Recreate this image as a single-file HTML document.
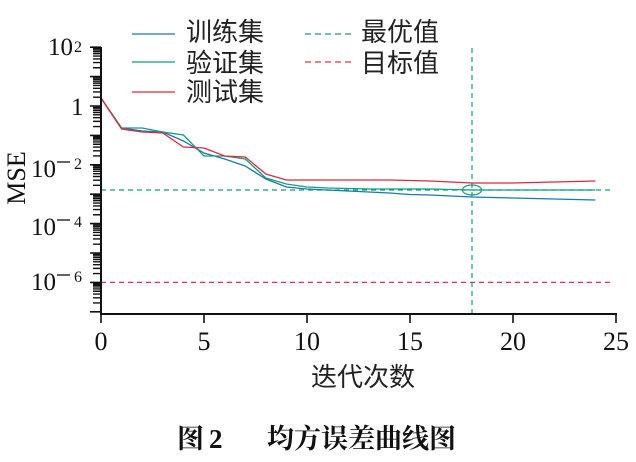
<!DOCTYPE html>
<html><head><meta charset="utf-8"><style>
html,body{margin:0;padding:0;background:#fff;}
svg{display:block;}
.n{font-family:"Liberation Serif",serif;fill:#111;}
.c{font-family:"Liberation Sans","Noto Sans CJK SC",sans-serif;fill:#222;}
.b{font-family:"Liberation Serif","Noto Serif CJK SC",serif;font-weight:700;fill:#111;}
</style></head><body>
<svg width="636" height="462" viewBox="0 0 636 462" xmlns="http://www.w3.org/2000/svg">
<rect width="636" height="462" fill="#fff"/>
<!-- reference lines -->
<line x1="101" y1="190" x2="613" y2="190" stroke="#10a07c" stroke-width="1.2" stroke-dasharray="5,4"/>
<line x1="101" y1="282.4" x2="613" y2="282.4" stroke="#e0304c" stroke-width="1.2" stroke-dasharray="5,4"/>
<line x1="472" y1="48" x2="472" y2="314" stroke="#10a07c" stroke-width="1.2" stroke-dasharray="5,4"/>
<!-- series -->
<polyline fill="none" stroke="#1a78b8" stroke-width="1.3" points="101,98 121.6,128 142.2,131 162.8,132 183.4,141 204,153 224.6,159 245.2,166 265.8,179 286.4,187 307,189 327.6,190 348.2,191 368.8,192 389.4,193 410,194.5 430.6,195 451.2,196 471.8,197 492.4,197.5 513,198 533.6,198.5 554.2,199 574.8,199.5 595.4,200"/>
<polyline fill="none" stroke="#10a07c" stroke-width="1.3" points="101,98 121.6,128 142.2,128 162.8,132 183.4,135 204,156 224.6,156 245.2,159 265.8,178 286.4,184 307,187 327.6,188 348.2,188.5 368.8,189 389.4,189 410,189 430.6,189 451.2,189.5 471.8,190 492.4,190 513,190 533.6,190 554.2,190 574.8,190 595.4,190"/>
<polyline fill="none" stroke="#e0283c" stroke-width="1.3" points="101,98 121.6,129 142.2,132 162.8,133 183.4,147 204,148 224.6,156 245.2,157 265.8,174 286.4,180 307,180 327.6,180 348.2,180 368.8,180 389.4,180 410,180.5 430.6,181 451.2,182 471.8,183 492.4,183 513,183 533.6,182.5 554.2,182 574.8,181.5 595.4,181"/>
<ellipse cx="472" cy="190" rx="9.5" ry="5" fill="none" stroke="#10a07c" stroke-width="1.2"/>
<!-- axes -->
<line x1="101" y1="47" x2="101" y2="315" stroke="#111" stroke-width="2"/>
<line x1="100" y1="314" x2="617" y2="314" stroke="#111" stroke-width="2"/>
<path stroke="#111" stroke-width="1.6" fill="none" d="
M101,314v9 M204,314v9 M307,314v9 M410,314v9 M513,314v9 M616,314v9
M90,47.2h11 M90,76.6h11 M90,106h11 M90,135.4h11 M90,164.8h11 M90,194.2h11 M90,223.6h11 M90,253h11 M90,282.4h11 M90,311.8h11"/>
<path stroke="#111" stroke-width="1.4" fill="none" d="
M93,67.75h8 M93,62.57h8 M93,58.9h8 M93,56.05h8 M93,53.73h8 M93,51.76h8 M93,50.05h8 M93,48.55h8
M93,97.15h8 M93,91.97h8 M93,88.3h8 M93,85.45h8 M93,83.13h8 M93,81.16h8 M93,79.45h8 M93,77.95h8
M93,126.55h8 M93,121.37h8 M93,117.7h8 M93,114.85h8 M93,112.53h8 M93,110.56h8 M93,108.85h8 M93,107.35h8
M93,155.95h8 M93,150.77h8 M93,147.1h8 M93,144.25h8 M93,141.93h8 M93,139.96h8 M93,138.25h8 M93,136.75h8
M93,185.35h8 M93,180.17h8 M93,176.5h8 M93,173.65h8 M93,171.33h8 M93,169.36h8 M93,167.65h8 M93,166.15h8
M93,214.75h8 M93,209.57h8 M93,205.9h8 M93,203.05h8 M93,200.73h8 M93,198.76h8 M93,197.05h8 M93,195.55h8
M93,244.15h8 M93,238.97h8 M93,235.3h8 M93,232.45h8 M93,230.13h8 M93,228.16h8 M93,226.45h8 M93,224.95h8
M93,273.55h8 M93,268.37h8 M93,264.7h8 M93,261.85h8 M93,259.53h8 M93,257.56h8 M93,255.85h8 M93,254.35h8
M93,302.95h8 M93,297.77h8 M93,294.1h8 M93,291.25h8 M93,288.93h8 M93,286.96h8 M93,285.25h8 M93,283.75h8"/>
<!-- x tick labels -->
<g class="n" font-size="26" text-anchor="middle">
<text x="101" y="350">0</text><text x="204" y="350">5</text><text x="307" y="350">10</text>
<text x="410" y="350">15</text><text x="513" y="350">20</text><text x="616" y="350">25</text>
</g>
<!-- y tick labels -->
<g class="n" font-size="25">
<text x="48" y="55">10</text>
<text x="71" y="115">1</text>
<text x="31" y="177">10</text>
<text x="31" y="235">10</text>
<text x="31" y="290">10</text>
</g>
<g stroke="#111" stroke-width="1.3">
<line x1="57" y1="162" x2="70" y2="162"/>
<line x1="57" y1="220" x2="70" y2="220"/>
<line x1="57" y1="275" x2="70" y2="275"/>
</g>
<g class="n" font-size="16">
<text x="74" y="52">2</text>
<text x="74" y="169">2</text>
<text x="74" y="227">4</text>
<text x="74" y="282">6</text>
</g>
<text class="n" font-size="26" text-anchor="middle" transform="translate(25,178) rotate(-90)">MSE</text>
<text class="c" font-size="26" x="363" y="386" text-anchor="middle">迭代次数</text>
<!-- legend -->
<line x1="132" y1="34" x2="175" y2="34" stroke="#1a78b8" stroke-width="1.3"/>
<line x1="132" y1="62" x2="175" y2="62" stroke="#10a07c" stroke-width="1.3"/>
<line x1="132" y1="92" x2="175" y2="92" stroke="#e0283c" stroke-width="1.3"/>
<g class="c" font-size="26">
<text x="186" y="41">训练集</text>
<text x="186" y="72">验证集</text>
<text x="186" y="101">测试集</text>
<text x="361" y="41">最优值</text>
<text x="361" y="72">目标值</text>
</g>
<line x1="305" y1="34" x2="354" y2="34" stroke="#10a07c" stroke-width="1.3" stroke-dasharray="6,4"/>
<line x1="305" y1="62" x2="354" y2="62" stroke="#e0304c" stroke-width="1.3" stroke-dasharray="6,4"/>
<!-- caption -->
<text class="b" font-size="27" x="177" y="448">图</text>
<text class="b" font-size="27" x="209" y="448">2</text>
<text class="b" font-size="27" x="267" y="448">均方误差曲线图</text>
</svg>
</body></html>
